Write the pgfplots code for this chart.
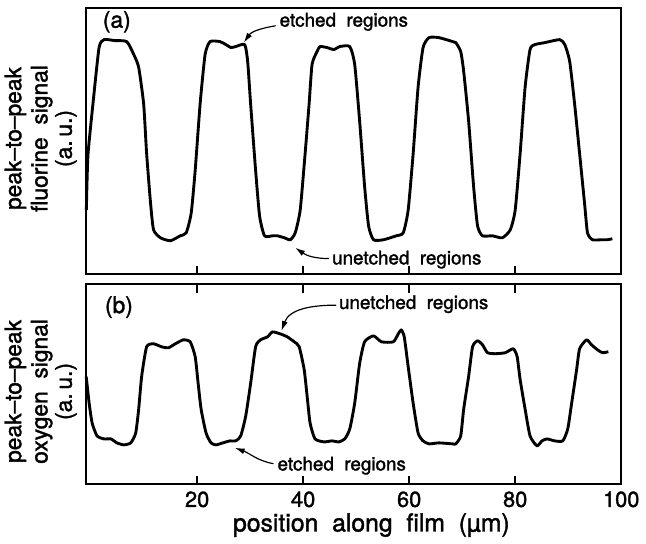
\documentclass[border=0pt]{standalone}
\usepackage{fontspec}
\setmainfont{TeX Gyre Heros}[FakeBold=1.5]
\usepackage{pgfplots}
\pgfplotsset{compat=1.18}
\usetikzlibrary{arrows.meta,calc}

\pgfplotsset{
  panel/.style={
    scale only axis, width=270pt,
    xmin=-0.93, xmax=100,
    clip=false,
    axis line style={line width=1pt},
    ytick=\empty,
    xtick={20,40,60,80,100},
    major tick length=4.5pt,
    tick style={line width=0.9pt, black},
    tick align=inside,
    /pgf/number format/assume math mode=true,
    ticklabel style={font=\fontsize{11}{13}\selectfont},
  },
  trace/.style={black, line width=1.45pt, line join=round, smooth, tension=0.35, mark=none},
}
\tikzset{
  note/.style={font=\fontsize{9.5}{11}\selectfont, anchor=west, inner sep=0pt},
  arr/.style={line width=0.6pt, -{Latex[length=5pt,width=3pt]}},
  yline/.style={rotate=90, anchor=center, inner sep=0pt, font=\fontsize{11.5}{13}\selectfont},
}

\begin{document}
\begin{tikzpicture}
% (a) fluorine
\begin{axis}[panel, name=top, height=134.5pt, ymin=0, ymax=269,
    xtick pos=bottom, xticklabels={}]
\addplot[trace] coordinates {
 (-0.9,65) (-0.6,120) (0.4,175) (1.50,229) (2.43,237) (4.5,236) (6.73,235) (8.04,222)
 (8.97,209) (9.91,172) (10.47,122) (11.21,72) (11.78,45) (13.08,37) (14.95,34)
 (16.82,39) (17.94,42) (18.88,62) (19.63,105) (20.56,172) (21.50,222) (22.43,235)
 (24.30,235) (25.42,232) (26.36,229) (27.29,230) (28.97,232) (29.53,215) (30.09,172)
 (31.03,105) (31.78,59) (32.71,39) (34.21,39) (35.14,39) (36.45,37) (37.57,35)
 (38.50,42) (39.44,65) (40.37,122) (41.12,172) (41.68,212) (42.62,225) (43.18,230)
 (44.49,229) (45.79,227) (46.92,230) (48.79,230) (49.72,212) (50.65,155) (51.59,89)
 (52.34,49) (53.27,35) (55.14,35) (57.57,39) (58.88,42) (59.81,65) (60.75,122)
 (61.68,189) (62.62,229) (63.74,239) (65.61,239) (68.22,235) (68.79,234) (69.72,225)
 (70.28,205) (71.21,155) (72.15,89) (72.90,49) (73.83,39) (75.70,39) (77.57,37)
 (79.07,45) (80.00,65) (80.93,122) (81.87,189) (82.80,227) (83.74,232) (85.61,234)
 (88.41,237) (89.35,232) (90.28,215) (91.21,172) (92.15,122) (93.08,72) (93.64,42)
 (94.58,35) (96.26,35) (97.38,35) (98.32,36)
};
\node[anchor=west, font=\fontsize{11.5}{13}\selectfont] at (axis cs:0.9,255) {(a)};
\node[note] at (axis cs:35.5,255) {etched~~regions};
\draw[arr] (axis cs:34.8,251) to[out=190, in=55] (axis cs:28.8,234);
\node[note] at (axis cs:45.4,15) {unetched~~regions};
\draw[arr] (axis cs:44.9,16) to[out=180, in=-35] (axis cs:38.5,27);
% y label, one node per line
\node[yline] at (axis description cs:-0.1324,0.51) {peak--to--peak};
\node[yline] at (axis description cs:-0.0833,0.51) {fluorine~~signal};
\node[yline] at (axis description cs:-0.038,0.51) {(a.\,u.)};
\end{axis}

% (b) oxygen
\begin{axis}[panel, name=bot, height=101pt, ymin=0, ymax=202,
    at={($(top.south west)+(0,-5pt)$)}, anchor=north west,
    xtick pos=both,
    xlabel={position~~along~~film~~(µm)},
    xlabel style={at={(axis description cs:0.533,-0.203)}, anchor=center,
      font=\fontsize{12.5}{14}\selectfont}]
\addplot[trace] coordinates {
 (-0.93,109) (-0.37,82) (0.19,62) (1.12,49) (2.43,46) (3.74,46) (4.86,42) (6.17,40)
 (7.48,42) (8.41,52) (8.97,76) (9.53,109) (10.47,139) (11.78,142) (13.27,139)
 (14.58,138) (15.89,142) (17.38,146) (18.69,144) (19.63,129) (20.19,102) (20.75,76)
 (21.68,52) (22.62,42) (23.55,40) (24.86,42) (26.17,44) (27.29,44) (28.22,49)
 (29.16,69) (30.09,102) (31.03,139) (31.96,146) (33.27,149) (34.21,154) (35.70,152)
 (37.01,149) (38.32,144) (39.25,139) (40.19,116) (40.75,89) (41.31,62) (42.24,46)
 (43.93,43) (45.42,44) (46.73,43) (47.85,46) (48.79,56) (49.72,82) (50.65,122)
 (51.59,144) (53.27,150) (54.77,144) (57.01,144) (57.94,152) (58.50,156) (59.07,149)
 (59.81,119) (60.75,82) (61.68,52) (62.62,44) (63.74,41) (65.61,42) (68.22,41)
 (68.79,41) (69.72,49) (70.28,76) (71.21,109) (71.96,139) (72.90,145) (73.83,141)
 (74.77,133) (76.26,132) (78.13,133) (79.63,137) (80.37,129) (80.93,106) (81.87,76)
 (82.80,49) (84.11,39) (85.05,44) (85.98,46) (87.48,44) (88.97,44) (89.91,56)
 (90.65,82) (91.59,116) (92.15,137) (93.46,146) (94.39,141) (95.51,136) (96.45,133)
 (97.57,134)
};
\node[anchor=west, font=\fontsize{11.5}{13}\selectfont] at (axis cs:1.3,179) {(b)};
\node[note] at (axis cs:46.7,182) {unetched~~regions};
\draw[arr] (axis cs:46.2,181) to[out=180, in=70] (axis cs:35.9,155);
\node[note] at (axis cs:35.1,19) {etched~~regions};
\draw[arr] (axis cs:34.4,21) to[out=170, in=-20] (axis cs:27.1,37);
\node[yline] at (axis description cs:-0.1324,0.465) {peak--to--peak};
\node[yline] at (axis description cs:-0.0833,0.465) {oxygen~~signal};
\node[yline] at (axis description cs:-0.038,0.465) {(a.\,u.)};
\end{axis}
% frame of the page as in the reference (646 x 546 px at 0.5 pt per px)
\path ($(top.north west)+(-43.5pt,4pt)$) rectangle ($(bot.south east)+(9.5pt,-28.5pt)$);
\end{tikzpicture}
\end{document}
